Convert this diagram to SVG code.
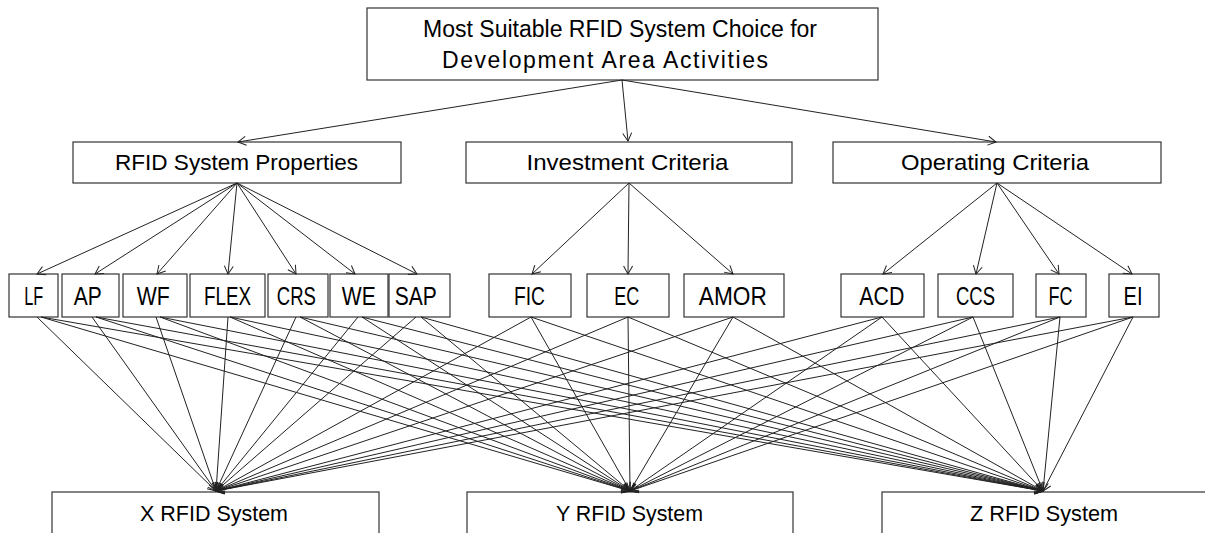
<svg xmlns="http://www.w3.org/2000/svg" width="1205" height="533" viewBox="0 0 1205 533">
<style>
.box{fill:#fff;stroke:#333;stroke-width:1.2}
.t{font-family:"Liberation Sans",Arial,sans-serif;fill:#000;text-anchor:middle}
.t1{font-size:23px}
.t2{font-size:21.5px}
.t3{font-size:25px}
.t4{font-size:22px}
.c line{stroke:#222;stroke-width:1;marker-end:url(#ah)}
</style>
<defs>
<marker id="ah" viewBox="0 0 10 12" markerWidth="10" markerHeight="12" refX="9" refY="6" orient="auto" markerUnits="userSpaceOnUse" overflow="visible">
<path d="M1,1.5 L9,6 L1,10.5" fill="none" stroke="#222" stroke-width="1"/>
</marker>
</defs>
<rect width="1205" height="533" fill="#fff"/>

<g id="root"><rect class="box" x="367" y="8" width="511" height="72"/>
<text class="t t1" x="620" y="37" textLength="394" lengthAdjust="spacingAndGlyphs">Most Suitable RFID System Choice for</text>
<text class="t t1" x="605" y="68" textLength="326" lengthAdjust="spacing">Development Area Activities</text></g>

<g id="rfid-props"><rect class="box" x="73" y="142" width="328" height="41"/><text class="t t2" x="236.5" y="170" textLength="243" lengthAdjust="spacingAndGlyphs">RFID System Properties</text></g>
<g id="investment"><rect class="box" x="466" y="142" width="326" height="41"/><text class="t t2" x="627.5" y="170" textLength="202" lengthAdjust="spacingAndGlyphs">Investment Criteria</text></g>
<g id="operating"><rect class="box" x="833" y="142" width="328" height="41"/><text class="t t2" x="995" y="170" textLength="188" lengthAdjust="spacingAndGlyphs">Operating Criteria</text></g>

<g id="LF"><rect class="box" x="9" y="274" width="49" height="43"/><text class="t t3" x="33.8" y="305" textLength="19" lengthAdjust="spacingAndGlyphs">LF</text></g>
<g id="AP"><rect class="box" x="62" y="274" width="57" height="43"/><text class="t t3" x="87.8" y="305" textLength="28" lengthAdjust="spacingAndGlyphs">AP</text></g>
<g id="WF"><rect class="box" x="123" y="274" width="64" height="43"/><text class="t t3" x="153.3" y="305" textLength="33" lengthAdjust="spacingAndGlyphs">WF</text></g>
<g id="FLEX"><rect class="box" x="190" y="274" width="75" height="43"/><text class="t t3" x="227.5" y="305" textLength="47" lengthAdjust="spacingAndGlyphs">FLEX</text></g>
<g id="CRS"><rect class="box" x="268" y="274" width="60" height="43"/><text class="t t3" x="296.3" y="305" textLength="39" lengthAdjust="spacingAndGlyphs">CRS</text></g>
<g id="WE"><rect class="box" x="330" y="274" width="58" height="43"/><text class="t t3" x="358.8" y="305" textLength="34" lengthAdjust="spacingAndGlyphs">WE</text></g>
<g id="SAP"><rect class="box" x="389" y="274" width="61" height="43"/><text class="t t3" x="415.8" y="305" textLength="42" lengthAdjust="spacingAndGlyphs">SAP</text></g>
<g id="FIC"><rect class="box" x="489" y="274" width="82" height="43"/><text class="t t3" x="529.5" y="305" textLength="31" lengthAdjust="spacingAndGlyphs">FIC</text></g>
<g id="EC"><rect class="box" x="587" y="274" width="82" height="43"/><text class="t t3" x="626.7" y="305" textLength="25" lengthAdjust="spacingAndGlyphs">EC</text></g>
<g id="AMOR"><rect class="box" x="684" y="274" width="100" height="43"/><text class="t t3" x="732.8" y="305" textLength="68" lengthAdjust="spacingAndGlyphs">AMOR</text></g>
<g id="ACD"><rect class="box" x="841" y="274" width="83" height="43"/><text class="t t3" x="881.8" y="305" textLength="45" lengthAdjust="spacingAndGlyphs">ACD</text></g>
<g id="CCS"><rect class="box" x="938" y="274" width="75" height="43"/><text class="t t3" x="975.5" y="305" textLength="39" lengthAdjust="spacingAndGlyphs">CCS</text></g>
<g id="FC"><rect class="box" x="1036" y="274" width="50" height="43"/><text class="t t3" x="1060.5" y="305" textLength="24" lengthAdjust="spacingAndGlyphs">FC</text></g>
<g id="EI"><rect class="box" x="1109" y="274" width="50" height="43"/><text class="t t3" x="1133" y="305" textLength="19" lengthAdjust="spacingAndGlyphs">EI</text></g>

<g id="X"><rect class="box" x="52" y="492" width="327" height="60"/><text class="t t4" x="214" y="521" textLength="148" lengthAdjust="spacingAndGlyphs">X RFID System</text></g>
<g id="Y"><rect class="box" x="467" y="492" width="326" height="60"/><text class="t t4" x="629.5" y="521" textLength="147" lengthAdjust="spacingAndGlyphs">Y RFID System</text></g>
<g id="Z"><rect class="box" x="882" y="492" width="330" height="60"/><text class="t t4" x="1044" y="521" textLength="148" lengthAdjust="spacingAndGlyphs">Z RFID System</text></g>

<g id="connectors" class="c">
<line x1="622" y1="80" x2="238" y2="142"/>
<line x1="622" y1="80" x2="628" y2="141"/>
<line x1="622" y1="80" x2="996" y2="142"/>

<line x1="237" y1="183" x2="37" y2="274"/>
<line x1="237" y1="183" x2="95" y2="274"/>
<line x1="237" y1="183" x2="157" y2="274"/>
<line x1="237" y1="183" x2="228" y2="274"/>
<line x1="237" y1="183" x2="296" y2="274"/>
<line x1="237" y1="183" x2="355" y2="274"/>
<line x1="237" y1="183" x2="417" y2="274"/>
<line x1="629" y1="183" x2="532" y2="274"/>
<line x1="629" y1="183" x2="628" y2="274"/>
<line x1="629" y1="183" x2="733" y2="274"/>
<line x1="997" y1="183" x2="883" y2="274"/>
<line x1="997" y1="183" x2="976" y2="274"/>
<line x1="997" y1="183" x2="1059" y2="274"/>
<line x1="997" y1="183" x2="1132" y2="274"/>

<line x1="37" y1="317" x2="216" y2="491"/>
<line x1="41" y1="317" x2="630" y2="491"/>
<line x1="41" y1="317" x2="1043" y2="491"/>
<line x1="92" y1="317" x2="216" y2="491"/>
<line x1="96" y1="317" x2="630" y2="491"/>
<line x1="96" y1="317" x2="1043" y2="491"/>
<line x1="156" y1="317" x2="216" y2="491"/>
<line x1="160" y1="317" x2="630" y2="491"/>
<line x1="160" y1="317" x2="1043" y2="491"/>
<line x1="228" y1="317" x2="216" y2="491"/>
<line x1="230" y1="317" x2="630" y2="491"/>
<line x1="230" y1="317" x2="1043" y2="491"/>
<line x1="296" y1="317" x2="216" y2="491"/>
<line x1="300" y1="317" x2="630" y2="491"/>
<line x1="300" y1="317" x2="1043" y2="491"/>
<line x1="358" y1="317" x2="216" y2="491"/>
<line x1="362" y1="317" x2="630" y2="491"/>
<line x1="362" y1="317" x2="1043" y2="491"/>
<line x1="416" y1="317" x2="216" y2="491"/>
<line x1="421" y1="317" x2="630" y2="491"/>
<line x1="421" y1="317" x2="1043" y2="491"/>
<line x1="531" y1="317" x2="216" y2="491"/>
<line x1="531" y1="317" x2="630" y2="491"/>
<line x1="531" y1="317" x2="1043" y2="491"/>
<line x1="628" y1="317" x2="216" y2="491"/>
<line x1="628" y1="317" x2="630" y2="491"/>
<line x1="628" y1="317" x2="1043" y2="491"/>
<line x1="733" y1="317" x2="216" y2="491"/>
<line x1="733" y1="317" x2="630" y2="491"/>
<line x1="733" y1="317" x2="1043" y2="491"/>
<line x1="882" y1="317" x2="216" y2="491"/>
<line x1="882" y1="317" x2="630" y2="491"/>
<line x1="882" y1="317" x2="1043" y2="491"/>
<line x1="973" y1="317" x2="216" y2="491"/>
<line x1="973" y1="317" x2="630" y2="491"/>
<line x1="973" y1="317" x2="1043" y2="491"/>
<line x1="1060" y1="317" x2="216" y2="491"/>
<line x1="1060" y1="317" x2="630" y2="491"/>
<line x1="1060" y1="317" x2="1043" y2="491"/>
<line x1="1133" y1="317" x2="216" y2="491"/>
<line x1="1133" y1="317" x2="630" y2="491"/>
<line x1="1133" y1="317" x2="1043" y2="491"/>
</g>
</svg>
